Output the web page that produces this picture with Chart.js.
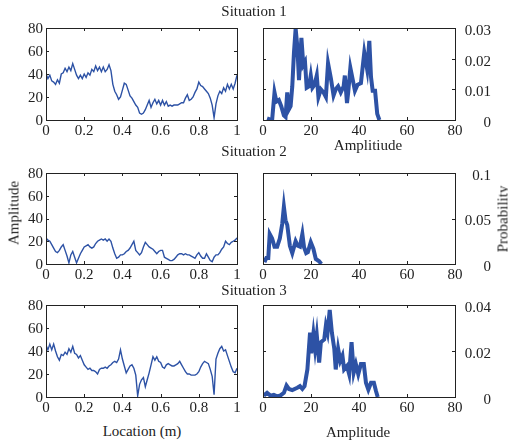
<!DOCTYPE html>
<html>
<head>
<meta charset="utf-8">
<script src="https://cdn.jsdelivr.net/npm/chart.js@4.4.1/dist/chart.umd.min.js"></script>
<style>
    html, body { margin: 0; padding: 0; background: #fff; }
    #wrap { position: relative; width: 508px; height: 446px; overflow: hidden; background: #fff; }
    canvas { position: absolute; }
    .lbl { position: absolute; font-family: "Liberation Serif", "Times New Roman", serif; font-size: 15px;
           line-height: 1; color: #222; white-space: nowrap; transform: translateX(-50%); }
    .rot { transform: translate(-50%, -50%) rotate(-90deg); }
</style>
</head>
<body>
<div id="wrap">
    <canvas id="loc1"></canvas>
    <canvas id="pdf1"></canvas>
    <canvas id="loc2"></canvas>
    <canvas id="pdf2"></canvas>
    <canvas id="loc3"></canvas>
    <canvas id="pdf3"></canvas>

    <div class="lbl" style="left:254px; top:4px;">Situation 1</div>
    <div class="lbl" style="left:254px; top:144px;">Situation 2</div>
    <div class="lbl" style="left:254px; top:283px;">Situation 3</div>
    <div class="lbl" style="left:368px; top:138px;">Amplitiude</div>
    <div class="lbl" style="left:142px; top:424px;">Location (m)</div>
    <div class="lbl" style="left:358px; top:425px;">Amplitude</div>
    <div class="lbl rot" style="left:14px; top:213px;">Amplitude</div>
    <div class="lbl rot" style="left:503px; top:219px;">Probability</div>
</div>
<script>
// sample positions along the beam (m)
const locations = Array.from({length: 101}, (_, i) => i / 100);

const ampSit1 = [40,36,39,34,33,31,35,32,40,41, 45,42,46,43,49,44,39,36,39,36,
    40,37,41,39,44,42,47,43,46,42, 46,42,44,48,43,31,25,22,18,20,
    26,32,31,26,21,19,16,13,11,6, 5,6,9,13,17,11,15,18,14,17,
    13,17,13,16,12,13,12,13,13,13, 14,15,15,19,22,17,18,20,24,27,
    33,30,29,27,25,23,19,13,2,14, 21,25,23,28,25,31,27,31,27,32, 39];

const ampSit2 = [23,21,20,17,14,11,10,12,15,17, 12,7,1,8,11,6,1,5,9,12,
    15,16,17,15,14,15,18,20,21,22, 21,22,20,22,20,14,9,5,6,8,
    8,9,11,12,14,17,20,12,10,8, 10,15,19,17,15,14,13,11,9,11,
    12,12,6,5,4,3,3,4,6,8, 9,9,8,9,8,8,7,6,5,8,
    10,7,5,5,9,6,3,2,6,8, 8,10,13,15,20,18,17,19,20,21, 23];

const ampSit3 = [45,41,46,41,46,40,35,32,37,36, 39,37,42,39,44,38,37,34,36,32,
    28,26,24,25,23,23,22,20,24,25, 25,26,25,27,28,30,31,30,33,41,
    33,27,21,24,27,28,25,19,1,11, 15,17,9,15,21,28,35,32,35,31,
    30,26,25,28,29,28,27,27,28,29, 31,28,25,22,20,20,19,19,19,20,
    22,26,29,31,30,29,24,18,2,33, 38,42,44,40,41,36,31,26,22,21, 25];

// amplitude distributions
const binSit1 = [1.7,2.8,3.8,4.8,5.6,6.6,7.6,8.7,9.4,10.1, 10.8,11.5,12.2,12.9,13.6,14.3,15.0,16.0,16.8,17.5,
    18.2,19.2,19.9,20.6,21.5,22.4,23.1,24.1,25.2,26.2, 27.1,28.3,29.4,30.3,31.3,32.4,33.6,34.1,35.0,35.5,
    36.4,37.3,38.3,39.4,40.8,42.2,43.4,44.3,45.0,45.7, 46.7,47.6,48.5];
const probSit1 = [.0005,.0002,0,.009,.006,.0065,.0045,.0015,.001,.009, .0035,.0045,.011,.022,.0298,.024,.013,.0268,.018,.019,
    .0105,.011,.0145,.0105,.0115,.0145,.0075,.01,.009,.0075, .0185,.0135,.008,.01,.011,.009,.011,.0145,.0055,.009,
    .017,.0135,.0095,.0115,.012,.022,.0165,.0258,.014,.0095, .0095,.002,0];

const binSit2 = [0.6,1.4,2.2,2.8,3.8,4.8,5.9,7.0,8.0,8.7, 9.4,10.1,11.2,12.2,13.6,14.5,15.4,16.4,17.1,18.0,
    18.7,19.9,21.0,22.0,23.4,24.3];
const probSit2 = [.002,.0067,.0067,.033,.028,.019,.019,.028,.044,.063, .048,.043,.020,.012,.025,.020,.019,.033,.0185,.012,
    .013,.024,.0167,.0055,.003,0];

const binSit3 = [0.3,1.7,3.1,4.5,5.9,7.3,8.7,9.8,10.8,12.2, 14.3,15.4,16.4,17.3,18.5,19.6,20.1,21.0,21.7,22.4,
    23.4,24.1,25.5,26.2,26.9,27.8,28.7,29.7,30.3,31.3, 32.2,33.1,33.8,35.0,35.9,36.9,37.8,38.7,39.7,40.8,
    42.0,42.9,43.9,45.0,46.2,47.1,47.8];
const probSit3 = [.0006,.0018,.0006,.0009,.0003,.0007,.0018,.005,.0035,.003, .004,.0047,.0035,.0047,.012,.028,.019,.0275,.021,.027,
    .015,.0238,.025,.031,.028,.0378,.028,.021,.012,.021, .0157,.018,.012,.0135,.0099,.0238,.0106,.0143,.0099,.0143,
    .0143,.0062,.0032,.0062,.0062,.0025,0];

// tick labels
const locTicks = ['0', '0.2', '0.4', '0.6', '0.8', '1'];
const ampTicks = ['0', '20', '40', '60', '80'];
const probTicks1 = ['0', '0.01', '0.02', '0.03'];
const probTicks2 = ['0', '0.05', '0.1'];
const probTicks3 = ['0', '0.02', '0.04'];

const BLUE = '#2d52a5';
const INK = '#222';
const SERIF = "'Liberation Serif', 'Times New Roman', serif";

Chart.defaults.font.family = SERIF;
Chart.defaults.font.size = 15;
Chart.defaults.color = INK;

// matlab style box with inward ticks
const framePlugin = {
    id: 'frame',
    afterDatasetsDraw(chart) {
        const {ctx, chartArea: a, scales} = chart;
        ctx.save();
        ctx.strokeStyle = INK;
        ctx.lineWidth = 1;
        ctx.beginPath();
        scales.x.ticks.forEach(t => {
            let px = Math.round(scales.x.getPixelForValue(t.value)) + 0.5;
            ctx.moveTo(px, a.bottom); ctx.lineTo(px, a.bottom - 3);
            ctx.moveTo(px, a.top); ctx.lineTo(px, a.top + 3);
        });
        scales.y.ticks.forEach(t => {
            let py = Math.round(scales.y.getPixelForValue(t.value)) + 0.5;
            ctx.moveTo(a.left, py); ctx.lineTo(a.left + 3, py);
            ctx.moveTo(a.right, py); ctx.lineTo(a.right - 3, py);
        });
        ctx.stroke();
        ctx.strokeRect(Math.round(a.left) + 0.5, Math.round(a.top) + 0.5,
            Math.round(a.right - a.left), Math.round(a.bottom - a.top));
        ctx.restore();
    }
};

function fixedTicks(labels) {
    return function (axis) {
        axis.ticks = labels.map(l => ({value: parseFloat(l)}));
    };
}

function axisOpts(labels, size, extra) {
    return Object.assign({
        type: 'linear',
        min: parseFloat(labels[0]),
        max: parseFloat(labels[labels.length - 1]),
        grid: {display: false, drawTicks: false},
        border: {display: false},
        ticks: {
            font: {family: SERIF, size: 15}, color: INK, autoSkip: false, maxRotation: 0,
            callback: (v, i) => labels[i]
        },
        afterBuildTicks: fixedTicks(labels),
        afterFit(axis) {
            if (axis.isHorizontal()) axis.height = size; else axis.width = size;
            axis.paddingLeft = axis.paddingRight = axis.paddingTop = axis.paddingBottom = 0;
        }
    }, extra);
}

function drawPanel(id, box, xs, ys, xLabels, yLabels, right) {
    let canvas = document.getElementById(id);
    let padTop = 12, xAxisH = 24;
    let w, padLeft, padRight, yAxisW;
    if (right) {
        padLeft = 13; yAxisW = 36; w = 258;
        padRight = w - padLeft - box.w - yAxisW;
        canvas.style.left = (box.x - padLeft) + 'px';
    } else {
        padLeft = 0; yAxisW = box.x; w = 252;
        padRight = w - box.x - box.w;
        canvas.style.left = '0px';
    }
    canvas.width = w;
    canvas.height = box.h + padTop + xAxisH;
    canvas.style.top = (box.y - padTop) + 'px';

    let y = axisOpts(yLabels, yAxisW, {position: right ? 'right' : 'left'});
    y.ticks.padding = 3;
    if (right) {
        y.ticks.crossAlign = 'far';
        y.ticks.labelOffset = 3;
    } else {
        y.ticks.labelOffset = 1;
    }
    let x = axisOpts(xLabels, xAxisH, {position: 'bottom'});
    x.ticks.padding = 2;

    return new Chart(canvas.getContext('2d'), {
        type: 'line',
        data: {
            datasets: [{
                data: xs.map((v, i) => ({x: v, y: ys[i]})),
                borderColor: BLUE,
                borderWidth: right ? 4 : 1.4,
                pointRadius: 0,
                tension: 0,
                fill: false
            }]
        },
        options: {
            responsive: false,
            animation: false,
            layout: {padding: {left: padLeft, right: padRight, top: padTop, bottom: 0}},
            plugins: {legend: {display: false}, tooltip: {enabled: false}},
            scales: {x: x, y: y}
        },
        plugins: [framePlugin]
    });
}

function drawAll() {
    drawPanel('loc1', {x: 46, y: 28, w: 191, h: 92}, locations, ampSit1, locTicks, ampTicks, false);
    drawPanel('pdf1', {x: 263, y: 28, w: 192, h: 92}, binSit1, probSit1, ampTicks, probTicks1, true);
    drawPanel('loc2', {x: 46, y: 173, w: 191, h: 91}, locations, ampSit2, locTicks, ampTicks, false);
    drawPanel('pdf2', {x: 263, y: 173, w: 192, h: 91}, binSit2, probSit2, ampTicks, probTicks2, true);
    drawPanel('loc3', {x: 46, y: 305, w: 191, h: 92}, locations, ampSit3, locTicks, ampTicks, false);
    drawPanel('pdf3', {x: 263, y: 305, w: 192, h: 92}, binSit3, probSit3, ampTicks, probTicks3, true);
}

document.fonts.load("15px 'Liberation Serif'").then(drawAll, drawAll);
</script>
</body>
</html>
